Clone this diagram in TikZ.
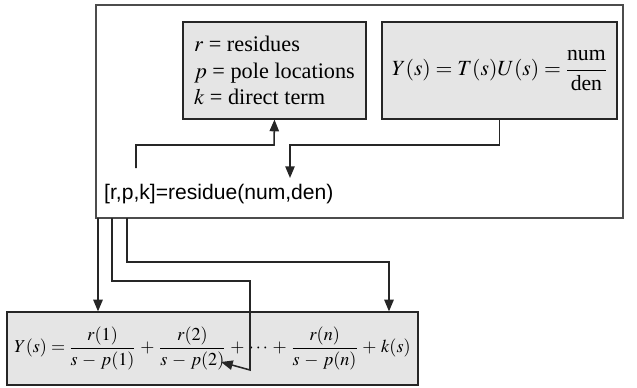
\documentclass[tikz,border=0pt]{standalone}
\usepackage{mathptmx}
\usepackage[no-math]{fontspec}
\setmainfont{Liberation Serif}
\setsansfont{Liberation Sans}
\usetikzlibrary{arrows.meta,calc}
\begin{document}
\begin{tikzpicture}[
  x=0.03cm, y=-0.03cm,
  box/.style={draw=black!85, line width=1pt, fill=black!10, inner sep=0pt},
  wire/.style={draw=black!85, line width=1.3pt},
  arr/.style={wire, -{Triangle[length=10pt,width=8pt]}},
  txt/.style={font=\fontsize{16}{24}\selectfont}
]
\useasboundingbox (0,0) rectangle (637,387);

\node[draw=black!70, line width=1pt, minimum width=15.81cm, minimum height=6.39cm, inner sep=0pt]
  (panel) at (359.5,111.5) {};

\node[box, minimum width=5.49cm, minimum height=2.91cm, align=left, font=\fontsize{19}{22.5}\selectfont] (vars) at (274.5,70.5)
  {$r$ = residues\\ $p$ = pole locations\\ $k$ = direct term};
\node[box, minimum width=7.05cm, minimum height=2.91cm, font=\fontsize{18.5}{24}\selectfont] (tf) at (499.5,70.5)
  {$\displaystyle Y(s) = T(s)U(s) = \frac{\mbox{num}}{\mbox{den}}$};

\node[anchor=west, inner sep=0pt, font=\sffamily\fontsize{18}{21}\selectfont] (call) at (104,194)
  {[r,p,k]=residue(num,den)};

\node[box, minimum width=12.33cm, minimum height=2.19cm, font=\fontsize{15.5}{24}\selectfont] (expand) at (212.5,348.5)
  {$\medmuskip=4.5mu\displaystyle Y(s) = \frac{r(1)}{s-p(1)} + \frac{r(2)}{s-p(2)} + \cdots + \frac{r(n)}{s-p(n)} + k(s)$};

\coordinate (c1) at (136,168);
\coordinate (c2) at (290,178);
\coordinate (o1) at (98,218);
\coordinate (o2) at (112,218);
\coordinate (o3) at (127,218);
\coordinate (k3) at (389,262);
\coordinate (p2) at (221,362);

\draw[arr] (c1) |- (274,145) -- (vars.south);
\draw[arr] (tf.south) |- (290,145) -- (c2);
\draw[arr] (o1) -- (o1 |- expand.north);
\draw[arr] (o2) |- (250,281) -- (250,370) -- (p2);
\draw[arr] (o3) -- (o3 |- k3) -- (k3) -- (k3 |- expand.north);
\end{tikzpicture}
\end{document}
